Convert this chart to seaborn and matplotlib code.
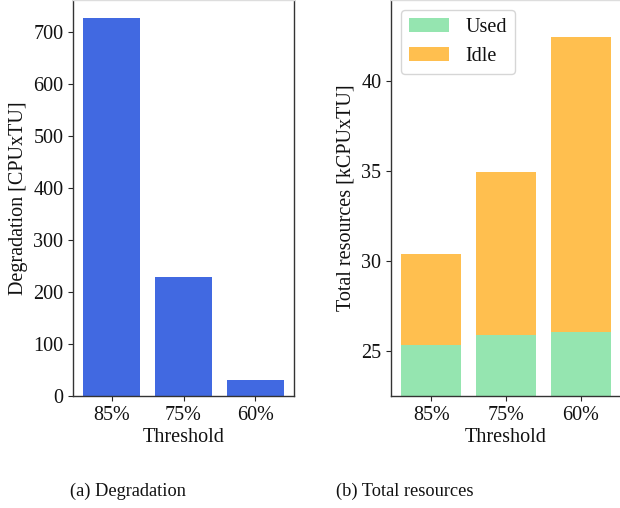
import pandas as pd
import seaborn as sns
import matplotlib.pyplot as plt

thresholds = ['85%', '75%', '60%']
degradation = [727, 229, 31]
used = [25.32, 25.87, 26.06]
total = [30.38, 34.94, 42.40]

sns.set_style('ticks')
plt.rcParams['font.family'] = 'serif'
plt.rcParams['font.serif'] = ['Liberation Serif', 'DejaVu Serif']
plt.rcParams['font.size'] = 14.5
plt.rcParams['axes.labelsize'] = 14.5
plt.rcParams['xtick.labelsize'] = 14.5
plt.rcParams['ytick.labelsize'] = 14.5
plt.rcParams['legend.fontsize'] = 14.5
plt.rcParams['text.color'] = '#111111'
plt.rcParams['axes.labelcolor'] = '#111111'
plt.rcParams['xtick.labelcolor'] = '#111111'
plt.rcParams['ytick.labelcolor'] = '#111111'

df = pd.DataFrame({'Threshold': thresholds, 'deg': degradation, 'used': used, 'total': total})

fig = plt.figure(figsize=(6.2, 5.08), dpi=100)
ax1 = fig.add_axes([73 / 620, 112 / 508, 221 / 620, 396.5 / 508])
ax2 = fig.add_axes([391 / 620, 112 / 508, 230 / 620, 396.5 / 508])

sns.barplot(data=df, x='Threshold', y='deg', color='#4169E1', saturation=1, width=0.8,
            linewidth=0, ax=ax1)
ax1.set_xlim(-0.54, 2.54)
ax1.set_ylim(0, 763)
ax1.set_ylabel('Degradation [CPUxTU]')
ax1.set_xlabel('Threshold', labelpad=2)

sns.barplot(data=df, x='Threshold', y='total', color='#FFBF4F', saturation=1, width=0.8,
            linewidth=0, ax=ax2, label='Idle')
sns.barplot(data=df, x='Threshold', y='used', color='#95E5B0', saturation=1, width=0.8,
            linewidth=0, ax=ax2, label='Used')
ax2.set_xlim(-0.54, 2.54)
ax2.set_ylim(22.48, 44.5)
ax2.set_yticks([25, 30, 35, 40])
ax2.set_ylabel('Total resources [kCPUxTU]')
ax2.set_xlabel('Threshold', labelpad=2)
h, l = ax2.get_legend_handles_labels()
ax2.legend(h[::-1], l[::-1], loc='upper left')

for ax in (ax1, ax2):
    for s in ax.spines.values():
        s.set_color('#333333')
        s.set_linewidth(1.0)
    ax.spines['top'].set_color('#dddddd')

fig.text(128 / 620, 1 - 491 / 508, '(a) Degradation', ha='center', va='center', fontsize=13.2)
fig.text(405 / 620, 1 - 491 / 508, '(b) Total resources', ha='center', va='center', fontsize=13.2)

fig.savefig('out.png', dpi=100)
